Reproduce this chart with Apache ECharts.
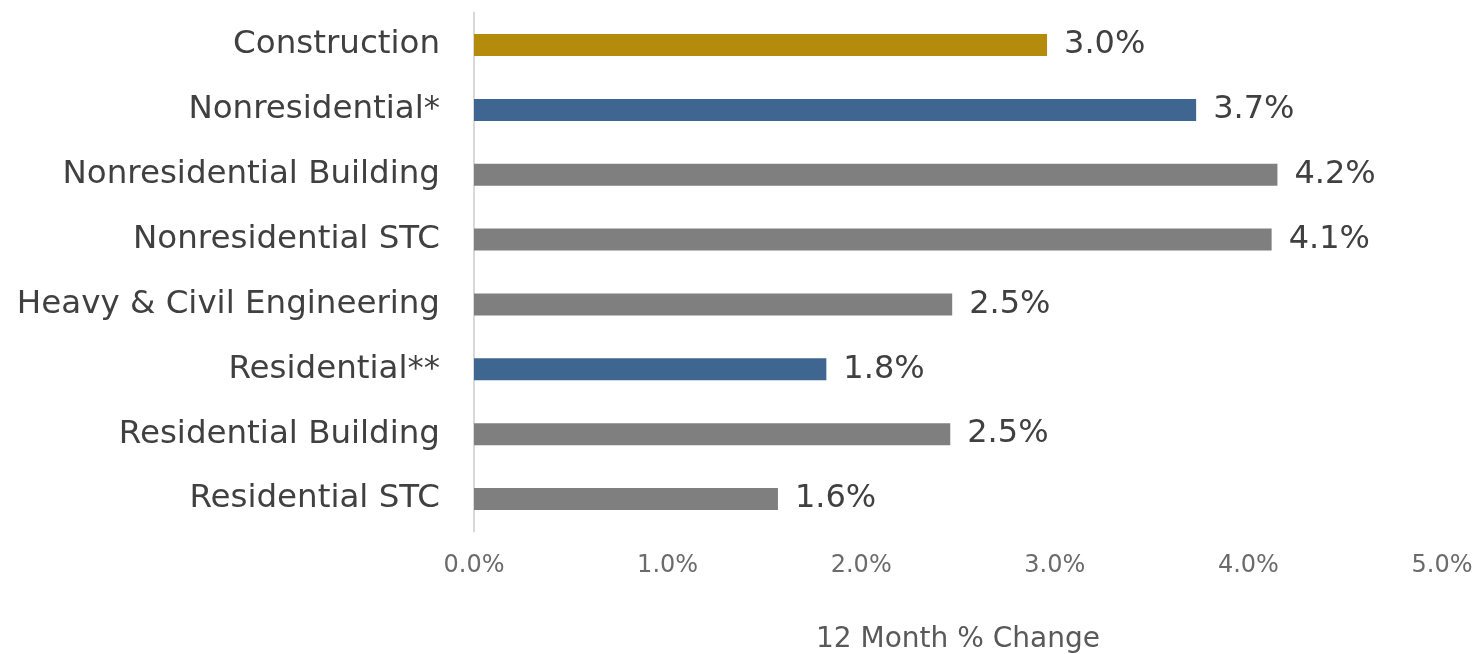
<!DOCTYPE html>
<html>
<head>
<meta charset="utf-8">
<script src="https://cdn.jsdelivr.net/npm/echarts@6/dist/echarts.min.js"></script>
<style>
    html, body { margin: 0; padding: 0; background: #fff; }
    #changeChart { width: 1478px; height: 654px; }
</style>
</head>
<body>
<div id="changeChart"></div>
<script>
// Chart data
const categories = ['Construction', 'Nonresidential*', 'Nonresidential Building', 'Nonresidential STC',
    'Heavy & Civil Engineering', 'Residential**', 'Residential Building', 'Residential STC'];
const changeValues = [2.96, 3.73, 4.15, 4.12, 2.47, 1.82, 2.46, 1.57];
const barColors = ['#B58B0B', '#3F6690', '#7F7F7F', '#7F7F7F', '#7F7F7F', '#3F6690', '#7F7F7F', '#7F7F7F'];
const xTicks = [0, 1, 2, 3, 4, 5];

// 12 month change bar chart
const changeCtx = echarts.init(document.getElementById('changeChart'));
var option = {
    animation: false,
    textStyle: {
        fontFamily: 'DejaVu Sans'
    },
    grid: {
        top: 12.6,
        bottom: 122.6,
        left: 474,
        right: 36,
        outerBoundsMode: 'none'
    },
    xAxis: {
        type: 'value',
        min: xTicks[0],
        max: xTicks[xTicks.length - 1],
        interval: 1,
        axisLine: { show: false },
        axisTick: { show: false },
        splitLine: { show: false },
        axisLabel: {
            fontSize: 24,
            color: '#6b6b6b',
            margin: 22,
            formatter: function (v) { return v.toFixed(1) + '%'; }
        },
        name: '12 Month % Change',
        nameLocation: 'middle',
        nameGap: 94,
        nameTextStyle: {
            fontSize: 28,
            color: '#595959'
        }
    },
    yAxis: {
        type: 'category',
        inverse: true,
        data: categories,
        axisTick: { show: false },
        axisLine: {
            lineStyle: { color: '#d9d9d9', width: 2 }
        },
        axisLabel: {
            fontSize: 32.5,
            color: '#404040',
            margin: 34
        }
    },
    series: [
        {
            type: 'bar',
            barWidth: 22,
            data: changeValues.map(function (v, i) {
                return { value: v, itemStyle: { color: barColors[i] } };
            }),
            label: {
                show: true,
                position: 'right',
                distance: 17,
                fontSize: 32,
                color: '#404040',
                formatter: function (p) { return p.value.toFixed(1) + '%'; }
            }
        }
    ]
};
changeCtx.setOption(option);
</script>
</body>
</html>
